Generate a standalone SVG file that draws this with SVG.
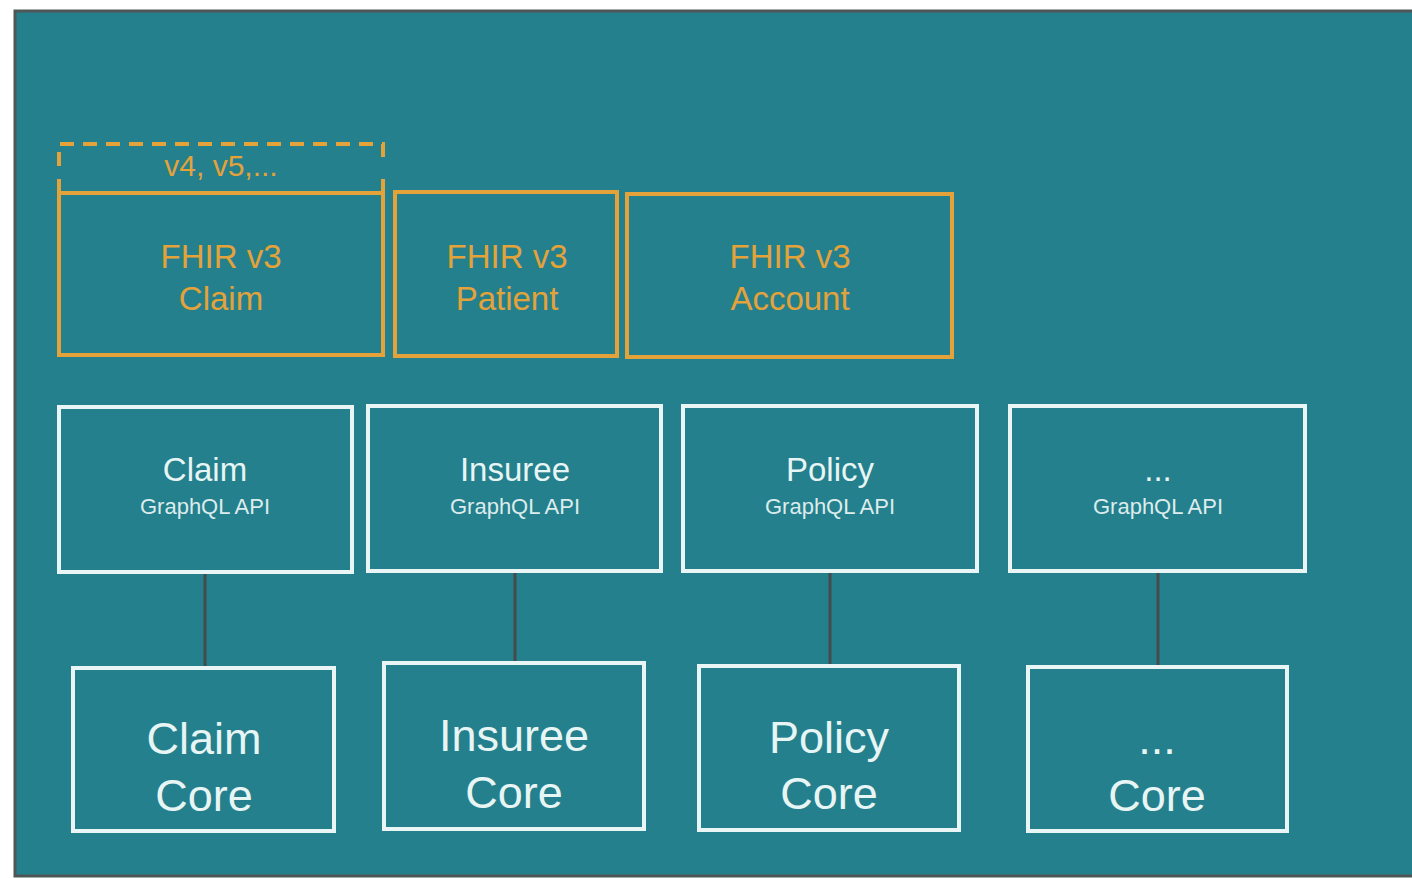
<svg xmlns="http://www.w3.org/2000/svg" width="1412" height="878" viewBox="0 0 1412 878">
<style>
.fhir{fill:none;stroke:#e4a23a;stroke-width:4}
.ot{fill:#e4a23a;font-family:"Liberation Sans",Arial,sans-serif;font-size:33px;text-anchor:middle}
.box{fill:none;stroke:#eaf6f6;stroke-width:4}
.t1{fill:#e8f5f5;font-family:"Liberation Sans",Arial,sans-serif;font-size:33px;text-anchor:middle}
.t2{fill:#dcecec;font-family:"Liberation Sans",Arial,sans-serif;font-size:22px;text-anchor:middle}
.t3{fill:#e8f5f5;font-family:"Liberation Sans",Arial,sans-serif;font-size:45px;text-anchor:middle}
.conn{stroke:#474a4c;stroke-width:3}
</style>
<rect x="0" y="0" width="1412" height="878" fill="#ffffff"/>
<rect x="15" y="11" width="1402" height="865" fill="#24808c" stroke="#4f5657" stroke-width="3"/>
<g id="connectors">
<line class="conn" x1="205" y1="574" x2="205" y2="666"/>
<line class="conn" x1="515" y1="573" x2="515" y2="661"/>
<line class="conn" x1="830" y1="573" x2="830" y2="665"/>
<line class="conn" x1="1158" y1="573" x2="1158" y2="665"/>
</g>
<g id="fhir-claim">
<path class="fhir" d="M59,166 V144 H383 V166" stroke-dasharray="14 9"/>
<line class="fhir" x1="59" y1="179" x2="59" y2="193"/>
<line class="fhir" x1="383" y1="179" x2="383" y2="193"/>
<text class="ot" x="221" y="176" style="font-size:30px">v4, v5,...</text>
<rect class="fhir" x="59" y="193" width="324" height="162"/>
<text class="ot" x="221" y="268">FHIR v3</text>
<text class="ot" x="221" y="310">Claim</text>
</g>
<g id="fhir-patient">
<rect class="fhir" x="395" y="192" width="222" height="164"/>
<text class="ot" x="507" y="268">FHIR v3</text>
<text class="ot" x="507" y="310">Patient</text>
</g>
<g id="fhir-account">
<rect class="fhir" x="627" y="194" width="325" height="163"/>
<text class="ot" x="790" y="268">FHIR v3</text>
<text class="ot" x="790" y="310">Account</text>
</g>
<g id="api-claim">
<rect class="box" x="59" y="407" width="293" height="165"/>
<text class="t1" x="205" y="481">Claim</text>
<text class="t2" x="205" y="514">GraphQL API</text>
</g>
<g id="api-insuree">
<rect class="box" x="368" y="406" width="293" height="165"/>
<text class="t1" x="515" y="481">Insuree</text>
<text class="t2" x="515" y="514">GraphQL API</text>
</g>
<g id="api-policy">
<rect class="box" x="683" y="406" width="294" height="165"/>
<text class="t1" x="830" y="481">Policy</text>
<text class="t2" x="830" y="514">GraphQL API</text>
</g>
<g id="api-more">
<rect class="box" x="1010" y="406" width="295" height="165"/>
<text class="t1" x="1158" y="481">...</text>
<text class="t2" x="1158" y="514">GraphQL API</text>
</g>
<g id="core-claim">
<rect class="box" x="73" y="668" width="261" height="163"/>
<text class="t3" x="204" y="754">Claim</text>
<text class="t3" x="204" y="811">Core</text>
</g>
<g id="core-insuree">
<rect class="box" x="384" y="663" width="260" height="166"/>
<text class="t3" x="514" y="751">Insuree</text>
<text class="t3" x="514" y="808">Core</text>
</g>
<g id="core-policy">
<rect class="box" x="699" y="666" width="260" height="164"/>
<text class="t3" x="829" y="753">Policy</text>
<text class="t3" x="829" y="809">Core</text>
</g>
<g id="core-more">
<rect class="box" x="1028" y="667" width="259" height="164"/>
<text class="t3" x="1157" y="754">...</text>
<text class="t3" x="1157" y="811">Core</text>
</g>
</svg>
